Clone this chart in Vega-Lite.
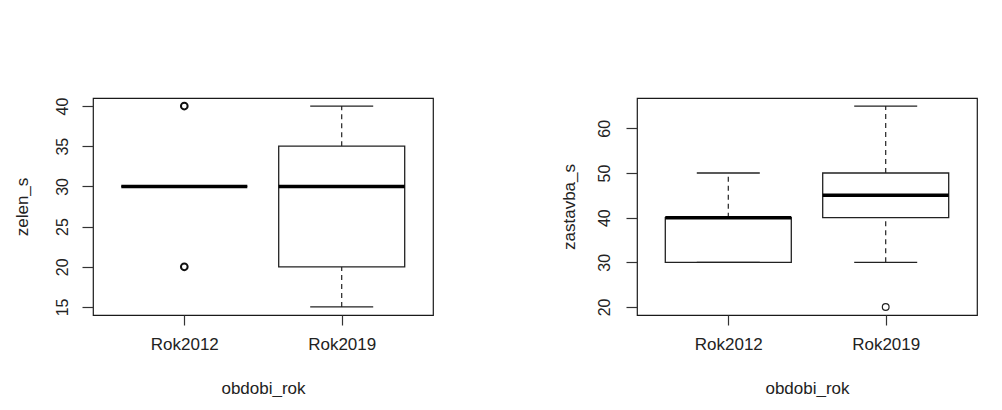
{
  "$schema": "https://vega.github.io/schema/vega-lite/v6.json",
  "autosize": {"type": "pad"},
  "padding": {"left": 12, "top": 96, "right": 0, "bottom": 0},
  "background": "white",
  "datasets": {
    "stats": [
      {"panel": "zelen_s", "period": "Rok2012", "lower": 30, "q1": 30, "median": 30, "q3": 30, "upper": 30},
      {"panel": "zelen_s", "period": "Rok2019", "lower": 15, "q1": 20, "median": 30, "q3": 35, "upper": 40},
      {"panel": "zastavba_s", "period": "Rok2012", "lower": 30, "q1": 30, "median": 40, "q3": 40, "upper": 50},
      {"panel": "zastavba_s", "period": "Rok2019", "lower": 30, "q1": 40, "median": 45, "q3": 50, "upper": 65}
    ],
    "outliers": [
      {"panel": "zelen_s", "period": "Rok2012", "value": 20},
      {"panel": "zelen_s", "period": "Rok2012", "value": 40},
      {"panel": "zastavba_s", "period": "Rok2019", "value": 20}
    ]
  },
  "hconcat": [
    {
      "width": 340,
      "height": 217,
      "data": {"name": "stats"},
      "transform": [{"filter": "datum.panel === 'zelen_s'"}],
      "encoding": {
        "x": {"field": "period", "type": "nominal", "scale": {"type": "point", "domain": ["Rok2012", "Rok2019"], "padding": 0.58}, "axis": {"title": "obdobi_rok"}}
      },
      "layer": [
        {
          "mark": {"type": "rule", "strokeDash": [5, 4], "color": "#222", "strokeWidth": 1.2},
          "encoding": {
            "y": {"field": "lower", "type": "quantitative", "scale": {"domain": [14, 41], "nice": false, "zero": false}, "axis": {"title": "zelen_s", "values": [15, 20, 25, 30, 35, 40], "titleX": -66}},
            "y2": {"field": "q1"}
          }
        },
        {
          "mark": {"type": "rule", "strokeDash": [5, 4], "color": "#222", "strokeWidth": 1.2},
          "encoding": {
            "y": {"field": "q3", "type": "quantitative", "axis": {"title": "zelen_s", "values": [15, 20, 25, 30, 35, 40], "titleX": -66}},
            "y2": {"field": "upper"}
          }
        },
        {
          "mark": {"type": "tick", "size": 63, "thickness": 1.3, "color": "#222", "opacity": 1},
          "encoding": {"y": {"field": "lower", "type": "quantitative", "axis": {"title": "zelen_s", "values": [15, 20, 25, 30, 35, 40], "titleX": -66}}}
        },
        {
          "mark": {"type": "tick", "size": 63, "thickness": 1.3, "color": "#222", "opacity": 1},
          "encoding": {"y": {"field": "upper", "type": "quantitative", "axis": {"title": "zelen_s", "values": [15, 20, 25, 30, 35, 40], "titleX": -66}}}
        },
        {
          "mark": {"type": "bar", "size": 126, "fill": "white", "stroke": "#222", "strokeWidth": 1.3, "opacity": 1},
          "encoding": {
            "y": {"field": "q1", "type": "quantitative", "axis": {"title": "zelen_s", "values": [15, 20, 25, 30, 35, 40], "titleX": -66}},
            "y2": {"field": "q3"}
          }
        },
        {
          "mark": {"type": "tick", "size": 126, "thickness": 3.5, "color": "#000", "opacity": 1},
          "encoding": {"y": {"field": "median", "type": "quantitative", "axis": {"title": "zelen_s", "values": [15, 20, 25, 30, 35, 40], "titleX": -66}}}
        },
        {
          "data": {"name": "outliers"},
          "transform": [{"filter": "datum.panel === 'zelen_s'"}],
          "mark": {"type": "point", "shape": "circle", "filled": false, "size": 45, "stroke": "#111", "strokeWidth": 2, "opacity": 1},
          "encoding": {"y": {"field": "value", "type": "quantitative", "axis": {"title": "zelen_s", "values": [15, 20, 25, 30, 35, 40], "titleX": -66}}}
        }
      ]
    },
    {
      "width": 340,
      "height": 217,
      "data": {"name": "stats"},
      "transform": [{"filter": "datum.panel === 'zastavba_s'"}],
      "encoding": {
        "x": {"field": "period", "type": "nominal", "scale": {"type": "point", "domain": ["Rok2012", "Rok2019"], "padding": 0.58}, "axis": {"title": "obdobi_rok"}}
      },
      "layer": [
        {
          "mark": {"type": "rule", "strokeDash": [5, 4], "color": "#222", "strokeWidth": 1.2},
          "encoding": {
            "y": {"field": "lower", "type": "quantitative", "scale": {"domain": [18.2, 66.8], "nice": false, "zero": false}, "axis": {"title": "zastavba_s", "values": [20, 30, 40, 50, 60], "titleX": -63, "labelPadding": 14}},
            "y2": {"field": "q1"}
          }
        },
        {
          "mark": {"type": "rule", "strokeDash": [5, 4], "color": "#222", "strokeWidth": 1.2},
          "encoding": {
            "y": {"field": "q3", "type": "quantitative", "axis": {"title": "zastavba_s", "values": [20, 30, 40, 50, 60], "titleX": -63, "labelPadding": 14}},
            "y2": {"field": "upper"}
          }
        },
        {
          "mark": {"type": "tick", "size": 63, "thickness": 1.3, "color": "#222", "opacity": 1},
          "encoding": {"y": {"field": "upper", "type": "quantitative", "axis": {"title": "zastavba_s", "values": [20, 30, 40, 50, 60], "titleX": -63, "labelPadding": 14}}}
        },
        {
          "mark": {"type": "bar", "size": 126, "fill": "white", "stroke": "#222", "strokeWidth": 1.3, "opacity": 1},
          "encoding": {
            "y": {"field": "q1", "type": "quantitative", "axis": {"title": "zastavba_s", "values": [20, 30, 40, 50, 60], "titleX": -63, "labelPadding": 14}},
            "y2": {"field": "q3"}
          }
        },
        {
          "mark": {"type": "tick", "size": 63, "thickness": 1.3, "color": "#222", "opacity": 1},
          "encoding": {"y": {"field": "lower", "type": "quantitative", "axis": {"title": "zastavba_s", "values": [20, 30, 40, 50, 60], "titleX": -63, "labelPadding": 14}}}
        },
        {
          "mark": {"type": "tick", "size": 126, "thickness": 3.5, "color": "#000", "opacity": 1},
          "encoding": {"y": {"field": "median", "type": "quantitative", "axis": {"title": "zastavba_s", "values": [20, 30, 40, 50, 60], "titleX": -63, "labelPadding": 14}}}
        },
        {
          "data": {"name": "outliers"},
          "transform": [{"filter": "datum.panel === 'zastavba_s'"}],
          "mark": {"type": "point", "shape": "circle", "filled": false, "size": 45, "stroke": "#222", "strokeWidth": 1.2, "opacity": 1},
          "encoding": {"y": {"field": "value", "type": "quantitative", "axis": {"title": "zastavba_s", "values": [20, 30, 40, 50, 60], "titleX": -63, "labelPadding": 14}}}
        }
      ]
    }
  ],
  "spacing": 204,
  "bounds": "flush",
  "config": {
    "view": {"stroke": "#1a1a1a", "strokeWidth": 1.2},
    "axis": {
      "grid": false,
      "domain": false,
      "tickColor": "#333",
      "tickWidth": 1.2,
      "labelFont": "Liberation Sans",
      "titleFont": "Liberation Sans",
      "labelColor": "#222",
      "titleColor": "#222",
      "titleFontWeight": "normal",
      "labelFontSize": 16,
      "titleFontSize": 17,
      "labelOverlap": false,
      "labelFlush": false
    },
    "axisX": {"tickSize": 10, "labelPadding": 11, "labelFontSize": 17, "labelAngle": 0, "titleY": 78, "titleBaseline": "alphabetic"},
    "axisY": {"tickSize": 11, "labelAngle": 270, "labelAlign": "center", "labelBaseline": "bottom", "labelPadding": 12, "titleAngle": 270, "titleBaseline": "alphabetic"}
  }
}
